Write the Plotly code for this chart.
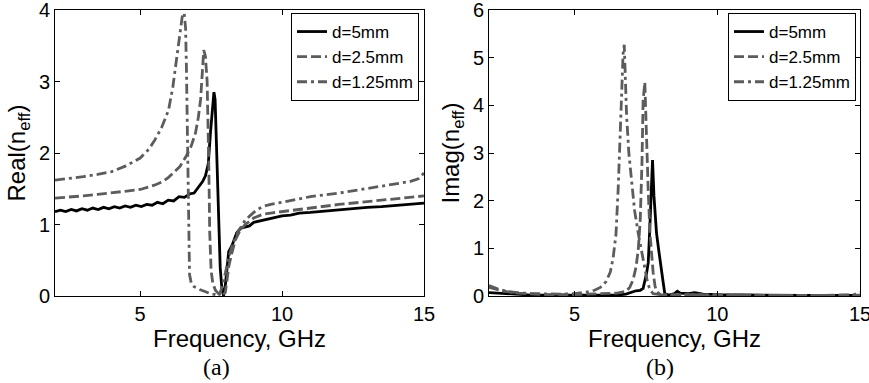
import plotly.graph_objects as go

# ---- Panel (a): Real(n_eff) ----
f_re_5 = [2.0, 2.19, 2.38, 2.57, 2.76, 2.95, 3.14, 3.33, 3.52, 3.71, 3.90, 4.09, 4.28, 4.47,
          4.66, 4.85, 5.04, 5.23, 5.42, 5.61, 5.80, 5.99, 6.18, 6.37, 6.56, 6.75, 6.9,
          7.05, 7.2, 7.3, 7.4, 7.48, 7.55, 7.6, 7.64, 7.68, 7.72, 7.77, 7.82, 7.88, 7.94,
          8.0, 8.06, 8.12, 8.25, 8.4, 8.55, 8.7, 8.85, 9.0, 9.2, 9.4, 9.6, 9.8, 10.0,
          10.3, 10.6, 11.0, 11.5, 12.0, 12.5, 13.0, 13.5, 14.0, 14.5, 15.0]
re_5 = [1.18, 1.20, 1.18, 1.21, 1.19, 1.22, 1.20, 1.23, 1.21, 1.24, 1.22, 1.25, 1.23, 1.26,
        1.24, 1.27, 1.25, 1.28, 1.27, 1.31, 1.29, 1.34, 1.33, 1.39, 1.38, 1.43, 1.44,
        1.52, 1.60, 1.68, 1.85, 2.30, 2.70, 2.85, 2.75, 2.20, 1.50, 0.90, 0.40, 0.10, 0.00,
        0.15, 0.45, 0.62, 0.72, 0.88, 0.95, 0.96, 0.98, 1.03, 1.05, 1.06, 1.09, 1.10, 1.12,
        1.13, 1.16, 1.17, 1.19, 1.21, 1.22, 1.24, 1.25, 1.27, 1.28, 1.30]

f_re_25 = [2.0, 2.5, 3.0, 3.5, 4.0, 4.5, 5.0, 5.5, 5.8, 6.0, 6.2, 6.4, 6.6, 6.8, 6.95, 7.05,
           7.13, 7.2, 7.24, 7.3, 7.36, 7.42, 7.45, 7.5, 7.56, 7.65, 7.77, 7.9, 8.0, 8.06,
           8.12, 8.23, 8.35, 8.5, 8.7, 9.0, 9.3, 9.6, 10.0, 10.5, 11.0, 12.0, 13.0, 14.0, 15.0]
re_25 = [1.37, 1.38, 1.40, 1.42, 1.44, 1.46, 1.49, 1.55, 1.60, 1.66, 1.73, 1.81, 1.94, 2.10,
         2.28, 2.50, 2.75, 3.20, 3.44, 3.35, 3.00, 1.80, 0.90, 0.35, 0.18, 0.08, 0.03, 0.01,
         0.05, 0.22, 0.41, 0.60, 0.78, 0.90, 1.00, 1.09, 1.14, 1.16, 1.18, 1.21, 1.24, 1.28,
         1.32, 1.36, 1.40]

f_re_125 = [2.0, 2.5, 3.0, 3.5, 4.0, 4.5, 5.0, 5.3, 5.5, 5.75, 6.0, 6.15, 6.3, 6.4, 6.48,
            6.55, 6.6, 6.63, 6.66, 6.7, 6.74, 6.8, 6.9, 7.1, 7.3, 7.5, 7.65, 7.77, 7.85,
            7.93, 8.0, 8.1, 8.23, 8.45, 8.7, 9.0, 9.3, 9.6, 10.0, 10.5, 11.0, 12.0, 13.0,
            14.0, 14.5, 14.8, 15.0]
re_125 = [1.62, 1.64, 1.67, 1.70, 1.74, 1.82, 1.93, 2.05, 2.17, 2.35, 2.60, 2.92, 3.40, 3.72,
          3.90, 3.96, 3.75, 3.20, 2.30, 0.90, 0.30, 0.18, 0.13, 0.09, 0.06, 0.03, 0.02, 0.00,
          0.08, 0.20, 0.32, 0.50, 0.69, 0.90, 1.06, 1.17, 1.25, 1.28, 1.31, 1.35, 1.39, 1.44,
          1.50, 1.56, 1.60, 1.64, 1.72]

# ---- Panel (b): Imag(n_eff) ----
f_im_5 = [2.0, 2.5, 3.0, 3.5, 4.0, 5.0, 6.0, 6.5, 6.8, 7.0, 7.15, 7.3, 7.4, 7.52, 7.58, 7.64,
          7.7, 7.73, 7.78, 7.87, 7.95, 8.04, 8.1, 8.16, 8.3, 8.5, 8.6, 8.7, 9.0, 9.2, 9.5,
          10.0, 11.0, 12.0, 13.0, 14.0, 15.0]
im_5 = [0.07, 0.05, 0.03, 0.02, 0.02, 0.02, 0.02, 0.02, 0.04, 0.08, 0.11, 0.12, 0.16, 0.47,
        0.70, 1.50, 2.50, 2.85, 2.10, 1.32, 0.95, 0.61, 0.30, 0.05, 0.02, 0.05, 0.10, 0.06,
        0.05, 0.07, 0.04, 0.03, 0.02, 0.02, 0.01, 0.01, 0.01]

f_im_25 = [2.0, 2.5, 3.0, 3.5, 4.0, 5.0, 5.5, 6.0, 6.5, 6.8, 6.93, 7.05, 7.15, 7.23, 7.3,
           7.36, 7.4, 7.46, 7.52, 7.58, 7.64, 7.7, 7.75, 7.82, 7.87, 8.0, 8.5, 9.0, 10.0,
           11.0, 12.0, 13.0, 14.0, 15.0]
im_25 = [0.18, 0.10, 0.06, 0.04, 0.03, 0.03, 0.04, 0.05, 0.06, 0.10, 0.18, 0.34, 0.60, 0.97,
         1.60, 2.80, 4.10, 4.48, 3.20, 2.20, 1.32, 0.80, 0.50, 0.20, 0.10, 0.03, 0.02, 0.03,
         0.02, 0.02, 0.01, 0.01, 0.01, 0.02]

f_im_125 = [2.0, 2.3, 2.6, 3.0, 3.5, 4.0, 4.5, 5.0, 5.4, 5.7, 5.9, 6.1, 6.25, 6.35, 6.45,
            6.53, 6.6, 6.64, 6.7, 6.74, 6.78, 6.82, 6.9, 7.0, 7.1, 7.23, 7.35, 7.46, 7.55,
            7.64, 7.75, 8.0, 9.0, 10.0, 11.0, 12.0, 13.0, 14.0, 14.8, 15.0]
im_125 = [0.22, 0.15, 0.10, 0.07, 0.05, 0.04, 0.04, 0.05, 0.08, 0.12, 0.18, 0.30, 0.50, 0.80,
          1.30, 2.30, 3.40, 4.40, 5.10, 5.27, 4.60, 3.80, 3.00, 2.36, 1.80, 1.31, 0.95, 0.62,
          0.30, 0.13, 0.05, 0.03, 0.03, 0.02, 0.02, 0.01, 0.01, 0.01, 0.03, 0.08]

labels = ["d=5mm", "d=2.5mm", "d=1.25mm"]
x_ticks = [5, 10, 15]
y_ticks_a = [0, 1, 2, 3, 4]
y_ticks_b = [0, 1, 2, 3, 4, 5, 6]

BLACK = "#000000"
GRAY = "#5c5c5c"
LW = 2.8
DASH = "10px,4px"
DASHDOT = "10px,4px,3px,4px"

fig = go.Figure()

series_a = [(f_re_5, re_5, BLACK, "solid"), (f_re_25, re_25, GRAY, DASH), (f_re_125, re_125, GRAY, DASHDOT)]
series_b = [(f_im_5, im_5, BLACK, "solid"), (f_im_25, im_25, GRAY, DASH), (f_im_125, im_125, GRAY, DASHDOT)]

for (fx, fy, c, d), name in zip(series_a, labels):
    fig.add_trace(go.Scatter(x=fx, y=fy, mode="lines", name=name,
                             line=dict(color=c, width=LW, dash=d),
                             xaxis="x", yaxis="y", legend="legend"))
for (fx, fy, c, d), name in zip(series_b, labels):
    fig.add_trace(go.Scatter(x=fx, y=fy, mode="lines", name=name,
                             line=dict(color=c, width=LW, dash=d),
                             xaxis="x2", yaxis="y2", legend="legend2"))

W, H = 869, 383
font = dict(family="Liberation Sans, Arial, sans-serif", size=20, color="black")

def xax(domain, anchor):
    return dict(domain=domain, anchor=anchor, range=[2, 15], tickvals=x_ticks,
                ticks="inside", ticklen=5, tickcolor="black", showline=True, linecolor="black",
                linewidth=1, mirror="ticks", showgrid=False, zeroline=False,
                ticklabeloverflow="allow", automargin=False,
                title=dict(text="Frequency, GHz", standoff=2), tickfont=font)

def yax(domain, anchor, rng, tv, title):
    return dict(domain=domain, anchor=anchor, range=rng, tickvals=tv,
                ticks="inside", ticklen=5, tickcolor="black", showline=True, linecolor="black",
                linewidth=1, mirror="ticks", showgrid=False, zeroline=False,
                ticklabeloverflow="allow", automargin=False,
                title=dict(text=title, standoff=6), tickfont=font)

ydom = [1 - 296 / H, 1 - 10 / H]
legend_style = dict(bgcolor="white", bordercolor="black", borderwidth=1,
                    font=dict(family="Liberation Sans, Arial, sans-serif", size=17, color="black"),
                    yanchor="top", xanchor="right", tracegroupgap=0, itemwidth=30)

cap_font = dict(family="Liberation Serif, DejaVu Serif, serif", size=24, color="black")

fig.update_layout(
    width=W, height=H, margin=dict(l=0, r=0, t=0, b=0, autoexpand=False),
    paper_bgcolor="white", plot_bgcolor="white", font=font,
    xaxis=xax([55 / W, 424 / W], "y"),
    yaxis=yax(ydom, "x", [0, 4], y_ticks_a, "Real(n<sub>eff</sub>)"),
    xaxis2=xax([489 / W, 860 / W], "y2"),
    yaxis2=yax(ydom, "x2", [0, 6], y_ticks_b, "Imag(n<sub>eff</sub>)"),
    legend=dict(x=419 / W, y=1 - 13 / H, **legend_style),
    legend2=dict(x=856 / W, y=1 - 13 / H, **legend_style),
    showlegend=True,
    annotations=[
        dict(text="(a)", x=216 / W, y=1 - 367 / H, xref="paper", yref="paper",
             xanchor="center", yanchor="middle", showarrow=False, font=cap_font),
        dict(text="(b)", x=660 / W, y=1 - 367 / H, xref="paper", yref="paper",
             xanchor="center", yanchor="middle", showarrow=False, font=cap_font),
    ],
)

fig.write_html("out.html")
